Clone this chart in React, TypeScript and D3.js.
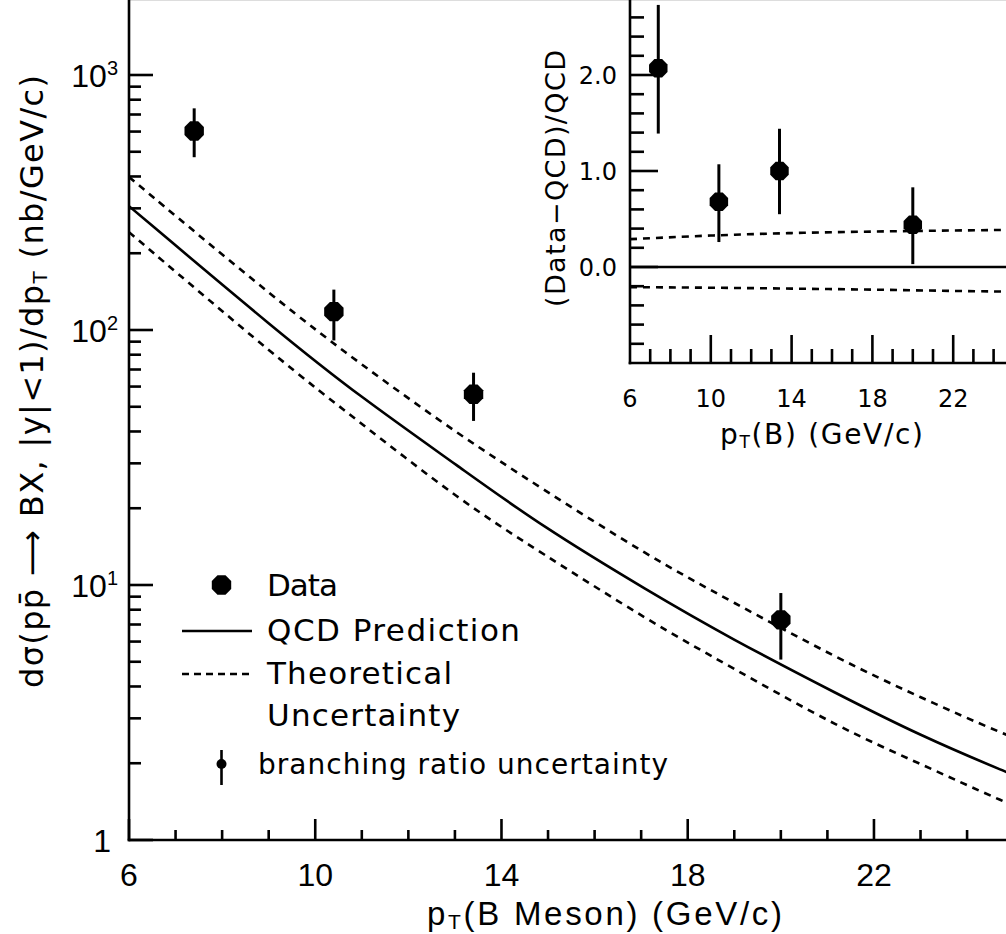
import React from "react";
import * as d3 from "d3";

// ---- Main plot data ----
const dataX = [7.4, 10.4, 13.4, 20.0];
const dataY = [603, 118, 56, 7.3];
const dataErrHi = [740, 144, 68, 9.3];
const dataErrLo = [476, 91, 44, 5.1];

const curveX = [6, 9.24, 10.95, 13.1, 14.82, 17.18, 18.9, 21.26, 22.97, 24.82, 26];
const qcdCentral = [306, 97, 55, 29, 17.2, 9.4, 6.2, 3.7, 2.58, 1.85, 1.52];
const qcdUpper = [398, 128, 74, 38.7, 24.2, 12.9, 8.7, 5.1, 3.64, 2.58, 2.15];
const qcdLower = [242, 76, 43.6, 21.5, 13.5, 7.2, 4.8, 2.75, 2.0, 1.4, 1.15];

const mainXTicks = [6, 10, 14, 18, 22];
const mainYTicks = [
  { v: 1, base: "1", exp: "" },
  { v: 10, base: "10", exp: "1" },
  { v: 100, base: "10", exp: "2" },
  { v: 1000, base: "10", exp: "3" },
];

// ---- Inset data ----
const ratioY = [2.07, 0.68, 1.0, 0.44];
const ratioErrHi = [2.73, 1.07, 1.44, 0.83];
const ratioErrLo = [1.39, 0.26, 0.55, 0.03];
const bandX = [6, 10, 14, 18, 22, 26];
const bandUpper = [0.29, 0.33, 0.355, 0.37, 0.38, 0.39];
const bandLower = [-0.21, -0.215, -0.225, -0.235, -0.25, -0.26];
const insetXTicks = [6, 10, 14, 18, 22];
const insetYTicks = ["0.0", "1.0", "2.0"];

const W = 1006;
const H = 934;
const SANS = "'Liberation Sans', Arial, sans-serif";
const GEO = "'DejaVu Sans', sans-serif";

function octagon(cx: number, cy: number, r: number) {
  const pts: string[] = [];
  for (let k = 0; k < 8; k++) {
    const a = ((22.5 + 45 * k) * Math.PI) / 180;
    pts.push(`${cx + r * Math.cos(a)},${cy + r * Math.sin(a)}`);
  }
  return pts.join(" ");
}

export default function App() {
  // main scales
  const x = d3.scaleLinear().domain([6, 26]).range([129, 129 + 20 * 46.56]);
  const y = d3.scaleLog().domain([1, Math.pow(10, 3.3)]).range([840, 840 - 3.3 * 255]);
  // inset scales
  const ix = d3.scaleLinear().domain([6, 26]).range([630, 630 + 20 * 20.2]);
  const iy = d3.scaleLinear().domain([-1, 3]).range([363, 363 - 4 * 96]);

  const mkLine = (vals: number[]) =>
    d3
      .line<number>()
      .x((_, i) => x(curveX[i]))
      .y((d) => y(d))
      .curve(d3.curveBasis)(vals) as string;
  const lineC = mkLine(qcdCentral);
  const lineU = mkLine(qcdUpper);
  const lineL = mkLine(qcdLower);

  const iline = d3
    .line<number>()
    .x((_, i) => ix(bandX[i]))
    .y((d) => iy(d))
    .curve(d3.curveBasis);

  // ticks
  const xMinor = d3.range(7, 27, 1).filter((v) => (v - 6) % 4 !== 0);
  const yMinor: number[] = [];
  for (let dec = 0; dec < 4; dec++)
    for (let m = 2; m <= 9; m++) yMinor.push(m * Math.pow(10, dec));
  const ixMinor = d3.range(7, 27, 1).filter((v) => (v - 6) % 4 !== 0);
  const ixMajor = [10, 14, 18, 22, 26];
  const iyMinor = d3.range(-0.8, 3.0, 0.2).filter((v) => Math.abs(v - Math.round(v)) > 0.01);
  const iyMajor = [0, 1, 2, 3];

  const sw = 2.6;

  return (
    <svg
      width={W}
      height={H}
      style={{ position: "absolute", left: 0, top: 0, background: "#fff" }}
    >
      <defs>
        <clipPath id="mainClip">
          <rect x={129} y={0} width={W - 129} height={840} />
        </clipPath>
        <clipPath id="insetClip">
          <rect x={630} y={0} width={W - 630} height={363} />
        </clipPath>
      </defs>
      <rect x={0} y={0} width={W} height={H} fill="#fff" />
      <line x1={129} x2={W} y1={0.5} y2={0.5} stroke="#ddd" strokeWidth={1} />

      {/* ===== Main plot ===== */}
      <g clipPath="url(#mainClip)" fill="none" stroke="#000" strokeWidth={sw}>
        <path d={lineC} />
        <path d={lineU} strokeDasharray="7,6" />
        <path d={lineL} strokeDasharray="7,6" />
      </g>
      {dataX.map((d, i) => (
        <g key={"d" + i}>
          <line
            x1={x(d)}
            x2={x(d)}
            y1={y(dataErrHi[i])}
            y2={y(dataErrLo[i])}
            stroke="#000"
            strokeWidth={3}
          />
          <polygon points={octagon(x(d), y(dataY[i]), 10.5)} fill="#000" />
        </g>
      ))}

      {/* main axes */}
      <g stroke="#000" strokeWidth={sw}>
        <line x1={129} x2={129} y1={0} y2={841.3} />
        <line x1={127.7} x2={W} y1={840} y2={840} />
        {mainXTicks.map((t) => (
          <line key={"mx" + t} x1={x(t)} x2={x(t)} y1={840} y2={819} />
        ))}
        {xMinor.map((t) => (
          <line key={"mxm" + t} x1={x(t)} x2={x(t)} y1={840} y2={830} />
        ))}
        {mainYTicks.map((t) => (
          <line key={"my" + t.v} x1={129} x2={153} y1={y(t.v)} y2={y(t.v)} />
        ))}
        {yMinor.map((t) => (
          <line key={"mym" + t} x1={129} x2={141} y1={y(t)} y2={y(t)} />
        ))}
      </g>
      <g fontFamily={SANS} fontSize={32} fill="#000">
        {mainXTicks.map((t) => (
          <text key={"mxl" + t} x={x(t)} y={886} textAnchor="middle">
            {t}
          </text>
        ))}
        {mainYTicks.map((t) =>
          t.exp ? (
            <text key={"myl" + t.v} x={118} y={y(t.v) + 12} textAnchor="end">
              {t.base}
              <tspan fontSize={20} dy={-12}>
                {t.exp}
              </tspan>
            </text>
          ) : (
            <text key={"myl" + t.v} x={111} y={y(t.v) + 12} textAnchor="end">
              {t.base}
            </text>
          )
        )}
      </g>
      {/* main x title */}
      <text
        x={427}
        y={925}
        fontFamily={SANS}
        fontSize={33}
        fill="#000"
        textLength={355}
      >
        p<tspan fontSize={21} dy={4}>T</tspan>
        <tspan dy={-4}>(B Meson) (GeV/c)</tspan>
      </text>
      {/* main y title */}
      <text
        transform="translate(43,688) rotate(-90)"
        fontFamily={GEO}
        fontSize={32}
        fill="#000"
        textLength={613}
      >
        dσ(pp̄ ⟶ BX, |y|&lt;1)/dp
        <tspan fontSize={20} dy={4}>T</tspan>
        <tspan dy={-4}> (nb/GeV/c)</tspan>
      </text>

      {/* legend */}
      <g fontFamily={GEO} fontSize={31} fill="#000">
        <polygon points={octagon(221.5, 585, 10.5)} fill="#000" />
        <text x={267} y={596} textLength={71}>Data</text>
        <line x1={182} x2={252} y1={631} y2={631} stroke="#000" strokeWidth={sw} />
        <text x={267} y={641} textLength={253}>QCD Prediction</text>
        <line
          x1={182}
          x2={252}
          y1={674}
          y2={674}
          stroke="#000"
          strokeWidth={sw}
          strokeDasharray="7,5"
        />
        <text x={267} y={684} textLength={185}>Theoretical</text>
        <text x={267} y={726} textLength={193}>Uncertainty</text>
        <line x1={221.5} x2={221.5} y1={750} y2={785} stroke="#000" strokeWidth={2.6} />
        <circle cx={221.5} cy={764} r={5} fill="#000" />
        <text x={258} y={774} fontSize={28} textLength={410}>
          branching ratio uncertainty
        </text>
      </g>

      {/* ===== Inset ===== */}
      <g clipPath="url(#insetClip)" fill="none" stroke="#000" strokeWidth={sw}>
        <line x1={630} x2={W} y1={iy(0)} y2={iy(0)} />
        <path d={iline(bandUpper) as string} strokeDasharray="7,6" />
        <path d={iline(bandLower) as string} strokeDasharray="7,6" />
      </g>
      {dataX.map((d, i) => (
        <g key={"r" + i}>
          <line
            x1={ix(d)}
            x2={ix(d)}
            y1={Math.max(iy(ratioErrHi[i]), 0)}
            y2={iy(ratioErrLo[i])}
            stroke="#000"
            strokeWidth={3}
          />
          <polygon points={octagon(ix(d), iy(ratioY[i]), 10)} fill="#000" />
        </g>
      ))}
      <g stroke="#000" strokeWidth={sw}>
        <line x1={630} x2={630} y1={0} y2={364.3} />
        <line x1={628.7} x2={W} y1={363} y2={363} />
        {ixMajor.map((t) => (
          <line key={"ix" + t} x1={ix(t)} x2={ix(t)} y1={363} y2={335} />
        ))}
        {ixMinor.map((t) => (
          <line key={"ixm" + t} x1={ix(t)} x2={ix(t)} y1={363} y2={349} />
        ))}
        {iyMajor.map((t) => (
          <line key={"iy" + t} x1={630} x2={658} y1={iy(t)} y2={iy(t)} />
        ))}
        {iyMinor.map((t) => (
          <line key={"iym" + t.toFixed(1)} x1={630} x2={644} y1={iy(t)} y2={iy(t)} />
        ))}
      </g>
      <g fontFamily={GEO} fontSize={24} fill="#000">
        {insetXTicks.map((t) => (
          <text key={"ixl" + t} x={ix(t)} y={407} textAnchor="middle">
            {t}
          </text>
        ))}
        {insetYTicks.map((t) => (
          <text key={"iyl" + t} x={617} y={iy(+t) + 9} textAnchor="end">
            {t}
          </text>
        ))}
      </g>
      <text x={720} y={444} fontFamily={GEO} fontSize={28} fill="#000" textLength={203}>
        p<tspan fontSize={17} dy={4}>T</tspan>
        <tspan dy={-4}>(B) (GeV/c)</tspan>
      </text>
      <text
        transform="translate(565,307) rotate(-90)"
        fontFamily={GEO}
        fontSize={27}
        fill="#000"
        textLength={257}
      >
        (Data−QCD)/QCD
      </text>
    </svg>
  );
}
